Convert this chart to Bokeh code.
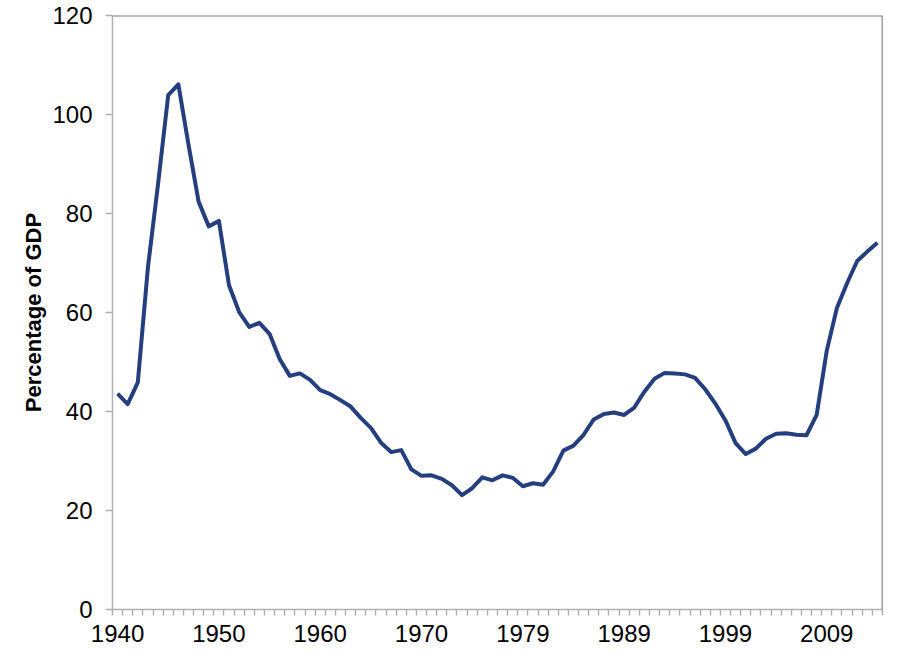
import numpy as np
from bokeh.plotting import figure
from bokeh.models import Range1d, FixedTicker, Span, ColumnDataSource
from bokeh.embed import file_html
from bokeh.resources import INLINE

# Fiscal years (TQ = transition quarter 1976)
periods = [str(y) for y in range(1940, 1977)] + ["TQ"] + [str(y) for y in range(1977, 2015)]
debt_pct_gdp = [
    43.6, 41.5, 45.9, 69.2, 86.0, 103.9, 106.1, 93.9, 82.4, 77.4,
    78.5, 65.5, 60.1, 57.1, 57.9, 55.7, 50.6, 47.2, 47.7, 46.4,
    44.3, 43.5, 42.3, 41.0, 38.7, 36.7, 33.7, 31.8, 32.2, 28.3,
    27.0, 27.1, 26.4, 25.1, 23.1, 24.5, 26.7, 26.1, 27.1, 26.6,
    24.9, 25.5, 25.2, 27.9, 32.1, 33.1, 35.3, 38.4, 39.5, 39.8,
    39.3, 40.8, 44.0, 46.6, 47.8, 47.7, 47.5, 46.8, 44.5, 41.6,
    38.2, 33.6, 31.4, 32.5, 34.5, 35.5, 35.6, 35.3, 35.2, 39.3,
    52.3, 60.9, 65.9, 70.4, 72.3, 74.1,
]
y_ticks = [0, 20, 40, 60, 80, 100, 120]
label_every = 10
y_label = "Percentage of GDP"

n = len(periods)
idx = np.arange(n)
src = ColumnDataSource(dict(x=idx, y=debt_pct_gdp, period=periods))

FONT = "Liberation Sans"
AXIS_GRAY = "#B0B0B0"

p = figure(width=896, height=654, output_backend="svg", toolbar_location=None,
           x_range=Range1d(-0.5, n - 0.5), y_range=Range1d(0, 120),
           min_border_left=112, min_border_top=15, min_border_right=14, min_border_bottom=45)
p.outline_line_color = None
p.xgrid.grid_line_color = None
p.ygrid.grid_line_color = None
p.background_fill_color = "white"
p.border_fill_color = "white"

p.line("x", "y", source=src, line_color="#253F7E", line_width=4, line_join="round")

# x axis
xa = p.xaxis[0]
label_pos = [int(i) for i in idx[::label_every]]
xa.ticker = FixedTicker(ticks=label_pos, minor_ticks=[i - 0.5 for i in range(n + 1)])
xa.major_label_overrides = {i: periods[i] for i in label_pos}
xa.major_tick_line_color = None
xa.major_tick_out = 6
xa.major_tick_in = 0
xa.minor_tick_line_color = AXIS_GRAY
xa.minor_tick_line_width = 1.5
xa.minor_tick_out = 6
xa.minor_tick_in = 0
xa.axis_line_color = AXIS_GRAY
xa.axis_line_width = 1.5
xa.major_label_text_font = FONT
xa.major_label_text_font_size = "24px"
xa.major_label_text_color = "black"
xa.major_label_standoff = 9

# y axis
ya = p.yaxis[0]
ya.ticker = FixedTicker(ticks=y_ticks)
ya.major_tick_line_color = AXIS_GRAY
ya.major_tick_line_width = 1.5
ya.major_tick_out = 7
ya.major_tick_in = 0
ya.minor_tick_line_color = None
ya.axis_line_color = AXIS_GRAY
ya.axis_line_width = 1.5
ya.major_label_text_font = FONT
ya.major_label_text_font_size = "24px"
ya.major_label_text_color = "black"
ya.major_label_standoff = 13
ya.axis_label = y_label
ya.axis_label_text_font = FONT
ya.axis_label_text_font_size = "22px"
ya.axis_label_text_font_style = "bold"
ya.axis_label_text_color = "black"
ya.axis_label_standoff = 3

# plot-area border on top and right
p.add_layout(Span(location=120, dimension="width", line_color="#808080", line_width=2, level="overlay"))
p.add_layout(Span(location=n - 0.5, dimension="height", line_color="#404040", line_width=1.5, level="overlay"))

open("out.html", "w").write(file_html(p, INLINE))
